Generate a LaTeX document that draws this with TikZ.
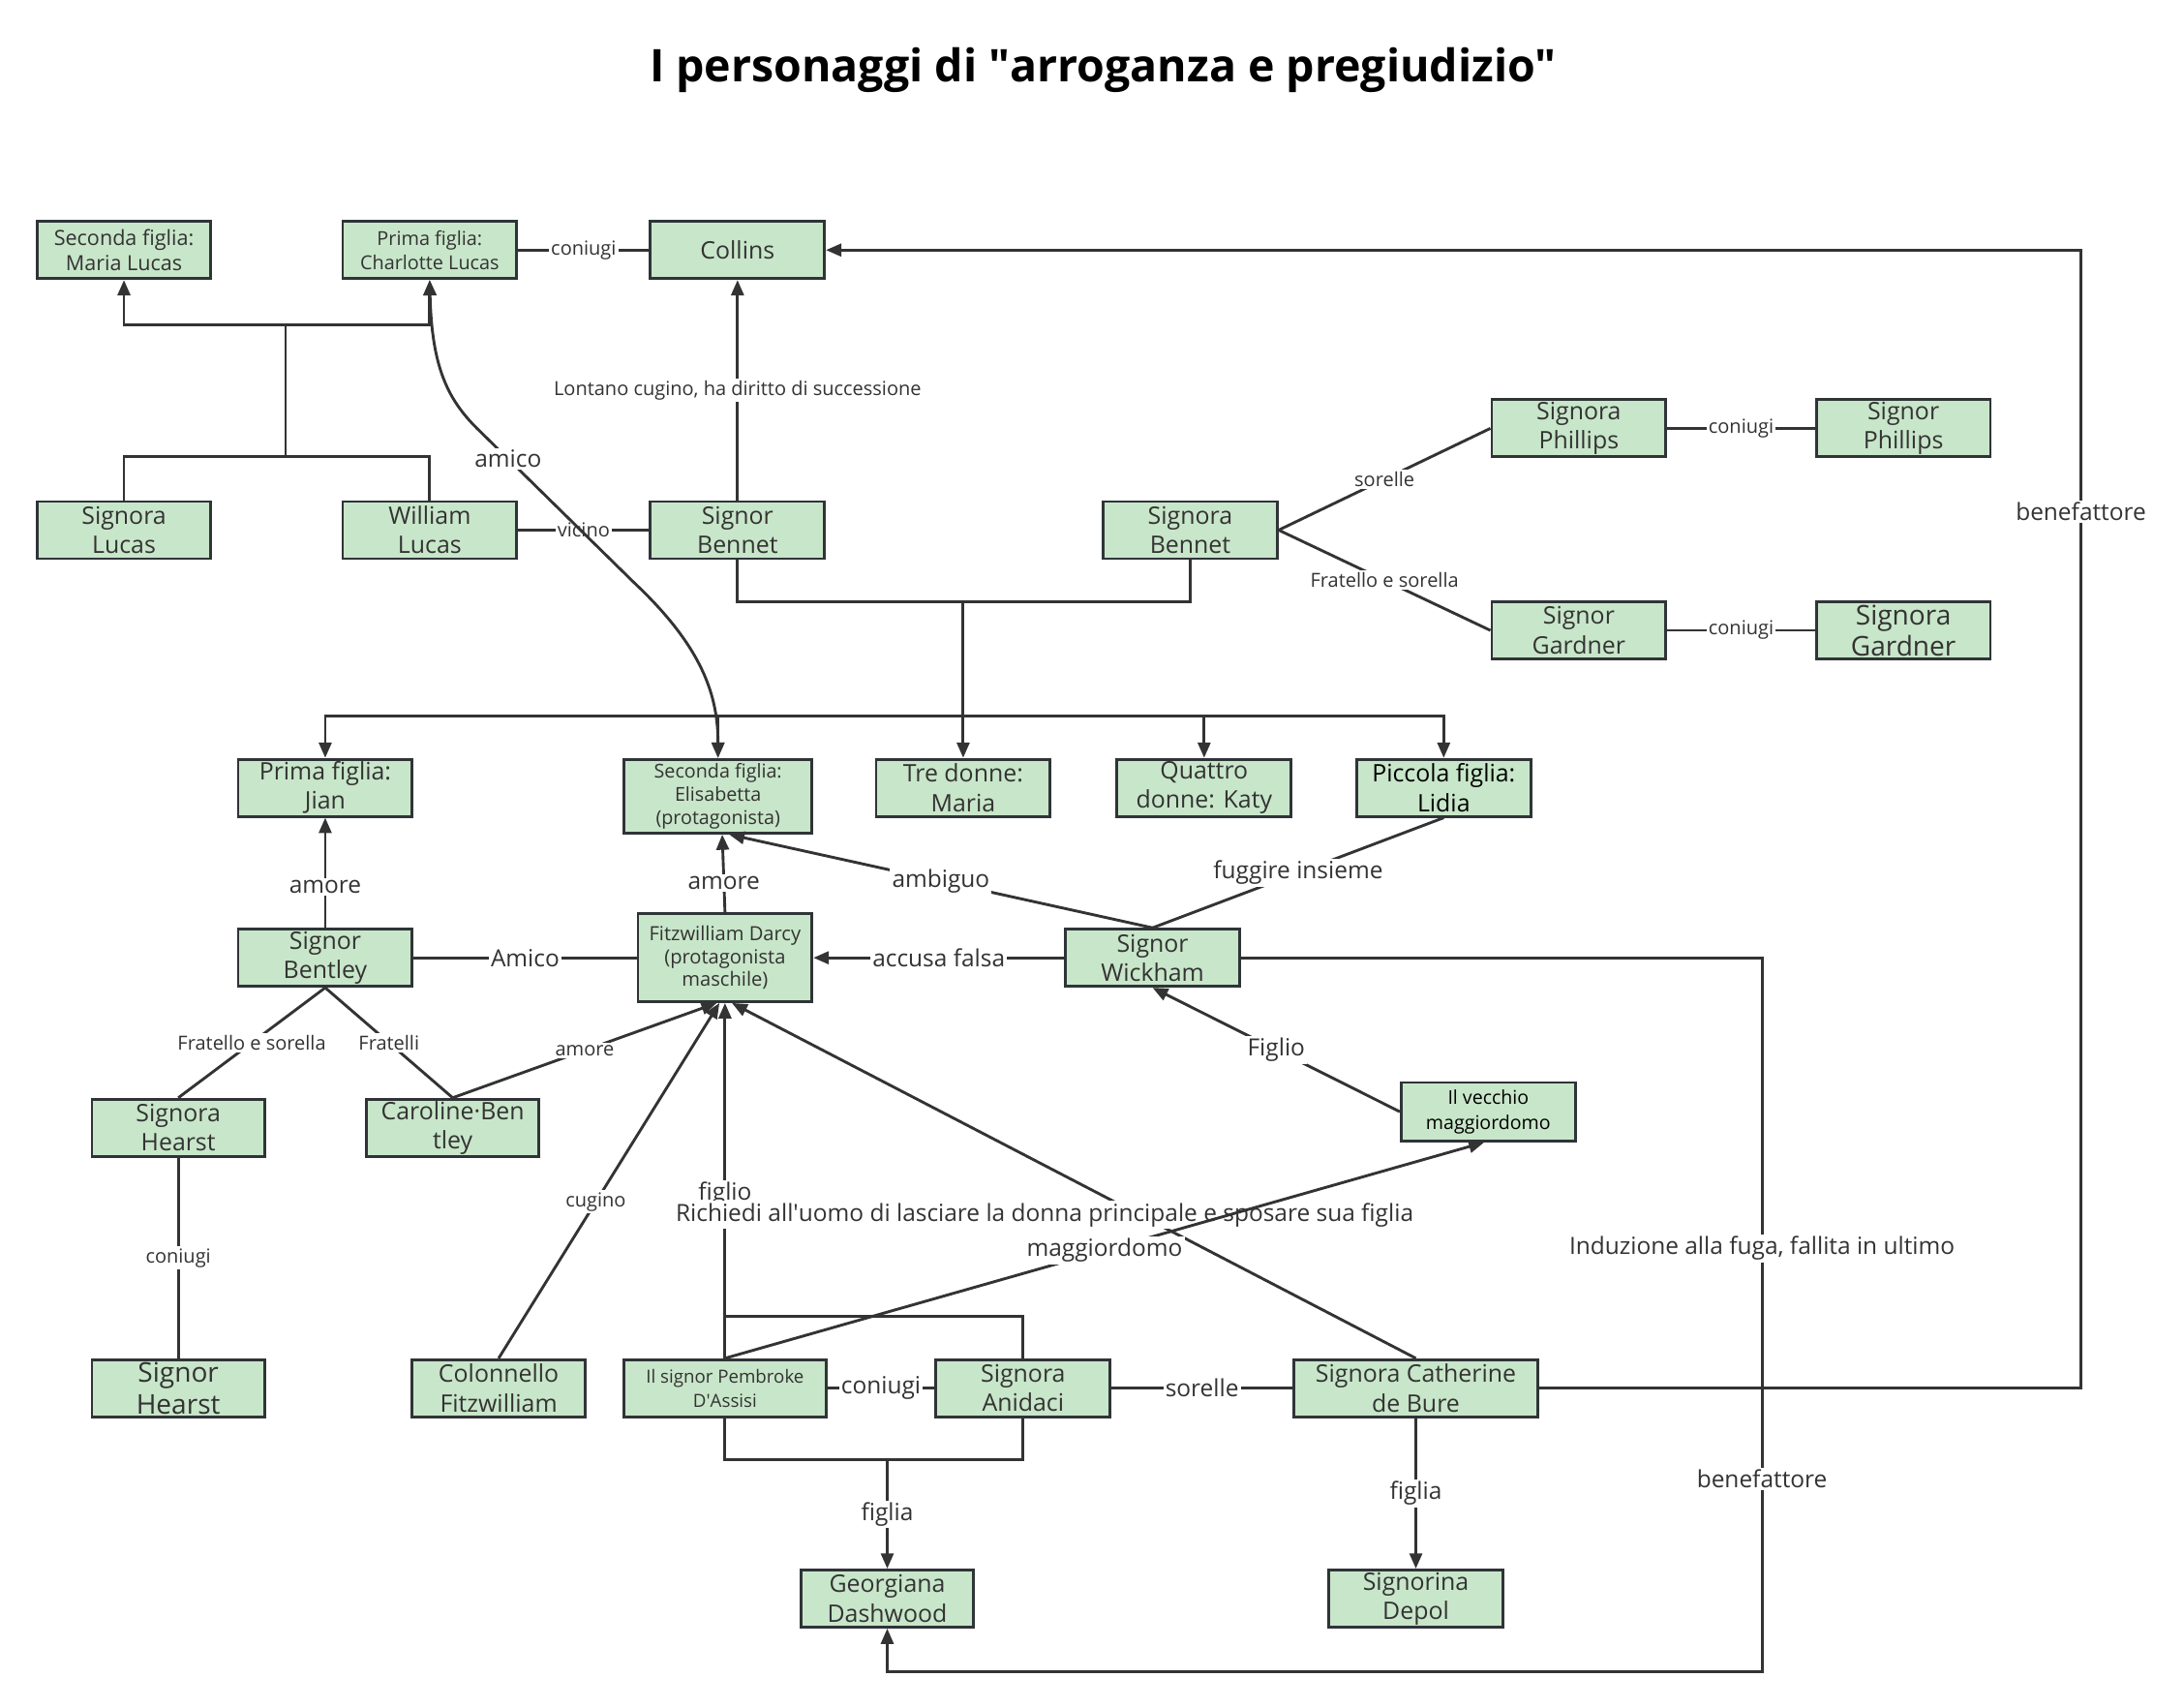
\documentclass[tikz,border=0pt]{standalone}
\usepackage{fontspec}
\setmainfont{Open Sans}
\usetikzlibrary{arrows.meta,calc}
\definecolor{boxfill}{HTML}{C8E6C9}
\definecolor{boxline}{HTML}{2F3437}
\definecolor{ink}{HTML}{333333}
\tikzset{
 box/.style={draw=boxline, line width=2pt, fill=boxfill, inner sep=0pt, text=ink, align=center,
   minimum width=125pt, minimum height=41pt, font=\fontsize{17.3}{21}\selectfont},
 sbox/.style={box, font=\fontsize{13.5}{17.5}\selectfont},
 lbox/.style={box, font=\fontsize{19.5}{22.5}\selectfont},
 conn/.style={draw=ink, line width=2pt},
 arr/.style={-{Triangle[length=11pt,width=9pt]}},
 lbl/.style={fill=white, inner sep=1.5pt, text=ink, font=\fontsize{17}{19}\selectfont},
 lbls/.style={lbl, font=\fontsize{13.9}{16}\selectfont},
}
\begin{document}
\begin{tikzpicture}[x=1pt,y=-1pt]
\useasboundingbox[fill=white] (0,0) rectangle (1568,1226);
\node[font=\bfseries\fontsize{32.3}{36}\selectfont, text=black] (title) at (792,50) {I personaggi di \textquotedbl arroganza e pregiudizio\textquotedbl};

% nodes
\node[sbox, minimum width=124pt, font=\fontsize{15}{18.5}\selectfont] (maria) at (89,179.5) {Seconda figlia:\\Maria Lucas};
\node[sbox, font=\fontsize{13.8}{17.5}\selectfont] (charlotte) at (308.5,179.5) {Prima figlia:\\Charlotte Lucas};
\node[box] (collins) at (529.5,179.5) {Collins};
\node[box, minimum width=124pt] (slucas) at (89,380.5) {Signora\\Lucas};
\node[box] (wlucas) at (308.5,380.5) {William\\Lucas};
\node[box] (sbennet) at (529.5,380.5) {Signor\\Bennet};
\node[box] (sabennet) at (854.5,380.5) {Signora\\Bennet};
\node[box] (saphillips) at (1133.5,307.5) {Signora\\Phillips};
\node[box] (sphillips) at (1366.5,307.5) {Signor\\Phillips};
\node[box] (sgardner) at (1133.5,452.5) {Signor\\Gardner};
\node[lbox] (sagardner) at (1366.5,452.5) {Signora\\Gardner};
\node[box] (jian) at (233.5,565.5) {Prima figlia:\\Jian};
\node[sbox, minimum width=135pt, minimum height=53pt, font=\fontsize{13.7}{16.5}\selectfont] (elisabetta) at (515.5,571.5) {Seconda figlia:\\Elisabetta\\(protagonista)};
\node[box] (tre) at (691.5,565.5) {Tre donne:\\Maria};
\node[box] (katy) at (864.5,565.5) {Quattro\\donne: Katy};
\node[box, text=black] (lidia) at (1036.5,565.5) {Piccola figlia:\\Lidia};
\node[box] (bentley) at (233.5,687.5) {Signor\\Bentley};
\node[sbox, minimum height=63pt, font=\fontsize{14}{16.5}\selectfont] (darcy) at (520.5,687.5) {Fitzwilliam Darcy\\(protagonista\\maschile)};
\node[box] (wickham) at (827.5,687.5) {Signor\\Wickham};
\node[box, minimum width=124pt] (sahearst) at (128,809.5) {Signora\\Hearst};
\node[box, minimum width=124pt] (caroline) at (325,809.5) {Caroline·Ben\\tley};
\node[sbox, text=black, font=\fontsize{13.6}{18}\selectfont, minimum height=42pt] (vecchio) at (1068.5,798) {Il vecchio\\maggiordomo};
\node[lbox, minimum width=124pt] (shearst) at (128,996.5) {Signor\\Hearst};
\node[box, minimum width=124pt] (colonnello) at (358,996.5) {Colonnello\\Fitzwilliam};
\node[sbox, minimum width=145pt, font=\fontsize{13}{17}\selectfont] (pembroke) at (520.5,996.5) {Il signor Pembroke\\D\textquotesingle Assisi};
\node[box] (anidaci) at (734.5,996.5) {Signora\\Anidaci};
\node[box, minimum width=175pt] (catherine) at (1016.5,996.5) {Signora Catherine\\de Bure};
\node[box, minimum width=124pt] (georgiana) at (637,1147.5) {Georgiana\\Dashwood};
\node[box] (depol) at (1016.5,1147.5) {Signorina\\Depol};

% junction coordinates
\coordinate (lj1) at (205,328);
\coordinate (lj2) at (205,233);
\coordinate (bj) at (691.5,432);
\coordinate (bus) at (691.5,514);
\coordinate (cb1) at (1494,996.5);
\coordinate (cb2) at (1494,179.5);
\coordinate (w1) at (1265,687.5);
\coordinate (w2) at (1265,1200);
\coordinate (w3) at (637,1200);
\coordinate (pa) at (520.5,945);
\coordinate (pb1) at (520.5,1048);
\coordinate (pb2) at (734.5,1048);
\coordinate (pb) at (637,1048);

% Lucas family
\draw[conn] (charlotte.east) -- node[lbls]{coniugi} (collins.west);
\draw[conn] (slucas.north) |- (lj1) -| (wlucas.north);
\draw[conn] (lj1) -- (lj2);
\draw[conn,arr] (lj2) -| (maria.south);
\draw[conn,arr] (lj2) -| (charlotte.south);
\draw[conn] (wlucas.east) -- node[lbls]{vicino} (sbennet.west);
\draw[conn,arr] (sbennet.north) -- node[lbls]{Lontano cugino, ha diritto di successione} (collins.south);

% Bennet family
\draw[conn] (sbennet.south) |- (bj) -| (sabennet.south);
\draw[conn,arr] (bj) -- (tre.north);
\draw[conn,arr] (bus) -| (jian.north);
\draw[conn,arr] (bus) -| (elisabetta.north);
\draw[conn,arr] (bus) -| (katy.north);
\draw[conn,arr] (bus) -| (lidia.north);
\draw[conn] (sabennet.east) -- node[lbls]{sorelle} (saphillips.west);
\draw[conn] (sabennet.east) -- node[lbls]{Fratello e sorella} (sgardner.west);
\draw[conn] (saphillips.east) -- node[lbls]{coniugi} (sphillips.west);
\draw[conn] (sgardner.east) -- node[lbls]{coniugi} (sagardner.west);

% amico curve
\draw[conn,{Triangle[length=11pt,width=9pt]}-{Triangle[length=11pt,width=9pt]}] (charlotte.south) .. controls (310,265) and (322,288) .. (345,310) -- node[lbl,pos=0.18]{amico} (455,418) .. controls (505,465) and (515.5,500) .. (elisabetta.north);

% benefattore to Collins
\draw[conn,arr] (catherine.east) -- (cb1) -- node[lbl,pos=0.77]{benefattore} (cb2) -- (collins.east);

% middle
\draw[conn,arr] (bentley.north) -- node[lbl,pos=0.37]{amore} (jian.south);
\draw[conn,arr] (darcy.north) -- node[lbl,pos=0.38]{amore} ([xshift=3pt]elisabetta.south);
\draw[conn,arr] (wickham.north) -- node[lbl]{ambiguo} ([xshift=8pt]elisabetta.south);
\draw[conn] (wickham.north) -- node[lbl]{fuggire insieme} (lidia.south);
\draw[conn] (bentley.east) -- node[lbl]{Amico} (darcy.west);
\draw[conn,arr] (wickham.west) -- node[lbl]{accusa falsa} (darcy.east);
\draw[conn,arr] (wickham.east) -- (w1) -- node[lbl,pos=0.407]{Induzione alla fuga, fallita in ultimo} node[lbl,pos=0.73]{benefattore} (w2) -- (w3) -- (georgiana.south);

\draw[conn] (bentley.south) -- node[lbls]{Fratello e sorella} (sahearst.north);
\draw[conn] (bentley.south) -- node[lbls]{Fratelli} (caroline.north);
\draw[conn,arr] (caroline.north) -- node[lbls]{amore} ([xshift=-6pt]darcy.south);
\draw[conn] (sahearst.south) -- node[lbls]{coniugi} (shearst.north);
\draw[conn,arr] (colonnello.north) -- node[lbls,pos=0.44]{cugino} ([xshift=-4pt]darcy.south);

% Pembroke / Anidaci
\draw[conn] (pembroke.north) -- (pa) -| (anidaci.north);
\draw[conn,arr] (pa) -- node[lbl,pos=0.39]{figlio} (darcy.south);
\draw[conn] (pembroke.south) -- (pb1) -- (pb2) -- (anidaci.south);
\draw[conn,arr] (pb) -- node[lbl]{figlia} (georgiana.north);
\draw[conn] (pembroke.east) -- node[lbl]{coniugi} (anidaci.west);
\draw[conn] (anidaci.east) -- node[lbl]{sorelle} (catherine.west);
\draw[conn,arr] (catherine.north) -- ([xshift=5pt]darcy.south);
\node[lbl] (richiedi) at (750,872) {Richiedi all\textquotesingle uomo di lasciare la donna principale e sposare sua figlia};
\draw[conn,arr] (catherine.south) -- node[lbl]{figlia} (depol.north);
\draw[conn,arr] (pembroke.north) -- node[lbl]{maggiordomo} ([xshift=-3pt]vecchio.south);
\draw[conn,arr] (vecchio.west) -- node[lbl]{Figlio} (wickham.south);
\end{tikzpicture}
\end{document}
